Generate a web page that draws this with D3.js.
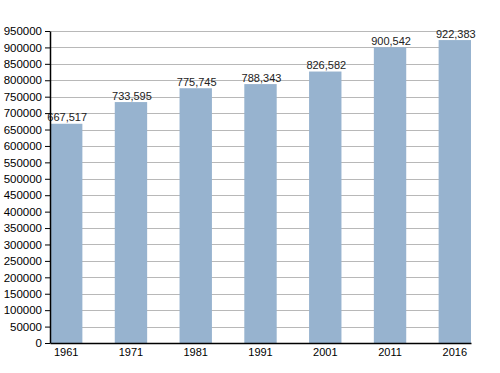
<html>
<head>
<script src="https://d3js.org/d3.v7.min.js"></script>
<style>
body { margin: 0; background: #fff; }
text { font-family: "Liberation Sans", Arial, sans-serif; font-size: 11px; fill: #000; }
</style>
</head>
<body>
<svg width="500" height="373"></svg>
<script>
// census years and population
var years = ["1961", "1971", "1981", "1991", "2001", "2011", "2016"];
var population = [667517, 733595, 775745, 788343, 826582, 900542, 922383];
var yTicks = d3.range(0, 950001, 50000);

var svg = d3.select("svg");
var plotLeft = 50, plotRight = 471, plotTop = 31, plotBottom = 343;

var x = d3.scaleBand()
  .domain(years)
  .range([plotLeft, plotRight])
  .paddingInner(0.5)
  .paddingOuter(0);

var y = d3.scaleLinear()
  .domain([0, 950000])
  .range([plotBottom, plotTop]);

// gridlines
svg.append("g")
  .selectAll("line")
  .data(yTicks.slice(1))
  .enter()
  .append("line")
  .attr("x1", plotLeft)
  .attr("x2", plotRight)
  .attr("y1", function(d) { return Math.round(y(d)) + 0.5; })
  .attr("y2", function(d) { return Math.round(y(d)) + 0.5; })
  .attr("stroke", "#b8b8b8")
  .attr("stroke-width", 1);

// bars
svg.append("g")
  .selectAll("rect")
  .data(population)
  .enter()
  .append("rect")
  .attr("x", function(d, i) { return x(years[i]); })
  .attr("width", x.bandwidth())
  .attr("y", function(d) { return y(d); })
  .attr("height", function(d) { return plotBottom - y(d); })
  .attr("fill", "#97b3cf");

// value labels
svg.append("g")
  .selectAll("text")
  .data(population)
  .enter()
  .append("text")
  .attr("x", function(d, i) { return x(years[i]) + x.bandwidth() / 2 + 1; })
  .attr("y", function(d) { return y(d) - 2.5; })
  .attr("text-anchor", "middle")
  .style("fill", "#222")
  .text(function(d) { return d3.format(",")(d); });

// y axis
var yAxis = svg.append("g")
  .attr("transform", "translate(" + plotLeft + ",0)")
  .call(d3.axisLeft(y).tickValues(yTicks).tickFormat(d3.format("d")).tickSize(5).tickSizeOuter(0));
yAxis.select(".domain").attr("stroke", "#000").attr("stroke-width", 1.5);
yAxis.selectAll(".tick line").attr("stroke", "#000");
yAxis.selectAll(".tick text").attr("x", -8).style("font-size", "11.5px").style("font-family", "Liberation Sans, Arial, sans-serif");

// x axis
var xAxis = svg.append("g")
  .attr("transform", "translate(0," + plotBottom + ")")
  .call(d3.axisBottom(x).tickSize(0).tickPadding(5));
xAxis.select(".domain").attr("stroke", "#000").attr("stroke-width", 1.5);
xAxis.selectAll(".tick text").style("font-size", "11px").style("font-family", "Liberation Sans, Arial, sans-serif");
</script>
</body>
</html>
